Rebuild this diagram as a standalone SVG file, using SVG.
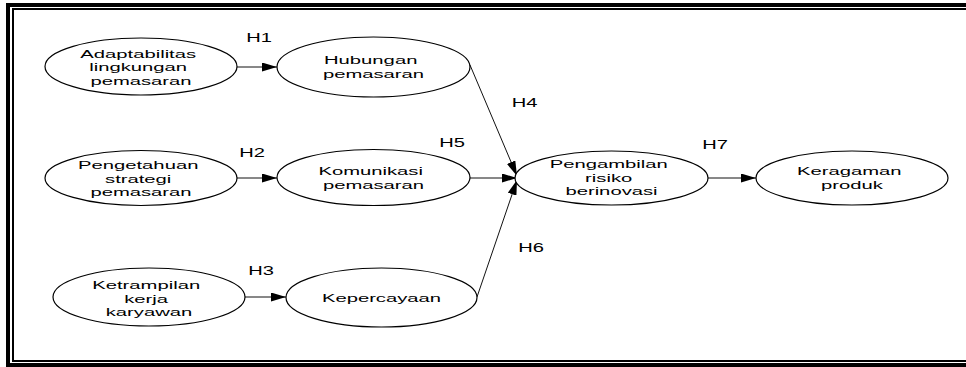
<svg xmlns="http://www.w3.org/2000/svg" width="966" height="367" viewBox="0 0 966 367">
  <defs>
    <marker id="arrow" markerUnits="userSpaceOnUse" markerWidth="15" markerHeight="9" refX="15" refY="4.5" orient="auto">
      <path d="M0,0 L15,4.5 L0,9 Z" fill="#000"/>
    </marker>
    <style>
      .node ellipse { fill: #fff; stroke: #000; stroke-width: 1.2; }
      .node text, .label { font-family: "Liberation Sans", Arial, sans-serif; font-size: 11.5px; fill: #000; text-anchor: middle; }
      .label { font-size: 13px; }
      .edge { fill: none; stroke: #111; stroke-width: 1; marker-end: url(#arrow); }
      .frame-thick { fill: none; stroke: #000; stroke-width: 4; }
      .frame-thin { fill: none; stroke: #000; stroke-width: 2; }
    </style>
  </defs>

  <rect width="966" height="367" fill="#fff"/>

  <!-- double frame: thick outer rule, thin inner rule -->
  <g id="frame">
    <path class="frame-thick" d="M966,5 H8 V367"/>
    <path class="frame-thick" d="M6,365 H966"/>
    <path class="frame-thin" d="M966,9 H13 V361 H966"/>
  </g>

  <!-- connectors -->
  <g id="connectors">
    <line class="edge" x1="237" y1="67" x2="277" y2="67"/>
    <line class="edge" x1="237" y1="178" x2="277" y2="178"/>
    <line class="edge" x1="245" y1="297" x2="286" y2="297"/>
    <line class="edge" x1="470" y1="65" x2="517" y2="176"/>
    <line class="edge" x1="470" y1="178" x2="517" y2="178"/>
    <line class="edge" x1="477" y1="297" x2="517" y2="180"/>
    <line class="edge" x1="708" y1="178" x2="756" y2="178"/>
  </g>

  <!-- hypothesis labels -->
  <g id="labels">
    <text class="label" transform="translate(259 0) scale(1.55 1)" y="42">H1</text>
    <text class="label" transform="translate(252 0) scale(1.55 1)" y="157">H2</text>
    <text class="label" transform="translate(261 0) scale(1.55 1)" y="275">H3</text>
    <text class="label" transform="translate(524.5 0) scale(1.55 1)" y="107">H4</text>
    <text class="label" transform="translate(452 0) scale(1.55 1)" y="147">H5</text>
    <text class="label" transform="translate(531 0) scale(1.55 1)" y="252">H6</text>
    <text class="label" transform="translate(715 0) scale(1.55 1)" y="149">H7</text>
  </g>

  <g id="adaptabilitas" class="node">
    <ellipse cx="141" cy="66.5" rx="96" ry="28.5"/>
    <text transform="translate(141 0) scale(1.76 1)">
      <tspan x="0" y="58">Adaptabilitas</tspan>
      <tspan x="0" y="71.5">lingkungan</tspan>
      <tspan x="0" y="85">pemasaran</tspan>
    </text>
  </g>

  <g id="hubungan" class="node">
    <ellipse cx="373.5" cy="67" rx="96.5" ry="30"/>
    <text transform="translate(373.5 0) scale(1.76 1)">
      <tspan x="0" y="64.5">Hubungan</tspan>
      <tspan x="0" y="78">pemasaran</tspan>
    </text>
  </g>

  <g id="pengetahuan" class="node">
    <ellipse cx="141" cy="178" rx="96" ry="27.5"/>
    <text transform="translate(141 0) scale(1.76 1)">
      <tspan x="0" y="169.5">Pengetahuan</tspan>
      <tspan x="0" y="183">strategi</tspan>
      <tspan x="0" y="196.5">pemasaran</tspan>
    </text>
  </g>

  <g id="komunikasi" class="node">
    <ellipse cx="373.5" cy="177.5" rx="96.5" ry="28"/>
    <text transform="translate(373.5 0) scale(1.76 1)">
      <tspan x="0" y="175.5">Komunikasi</tspan>
      <tspan x="0" y="189">pemasaran</tspan>
    </text>
  </g>

  <g id="ketrampilan" class="node">
    <ellipse cx="149" cy="297" rx="96" ry="29"/>
    <text transform="translate(149 0) scale(1.76 1)">
      <tspan x="0" y="289.5">Ketrampilan</tspan>
      <tspan x="0" y="303">kerja</tspan>
      <tspan x="0" y="316.5">karyawan</tspan>
    </text>
  </g>

  <g id="kepercayaan" class="node">
    <ellipse cx="381.5" cy="297.5" rx="95.5" ry="29.5"/>
    <text transform="translate(381.5 0) scale(1.76 1)" x="0" y="302">Kepercayaan</text>
  </g>

  <g id="pengambilan" class="node">
    <ellipse cx="611.5" cy="178" rx="96.5" ry="27"/>
    <text transform="translate(611.5 0) scale(1.76 1)">
      <tspan x="0" y="168.5">Pengambilan</tspan>
      <tspan x="0" y="182">risiko</tspan>
      <tspan x="0" y="195.5">berinovasi</tspan>
    </text>
  </g>

  <g id="keragaman" class="node">
    <ellipse cx="852" cy="178" rx="96" ry="27"/>
    <text transform="translate(852 0) scale(1.76 1)">
      <tspan x="0" y="175.5">Keragaman</tspan>
      <tspan x="0" y="189">produk</tspan>
    </text>
  </g>
</svg>
